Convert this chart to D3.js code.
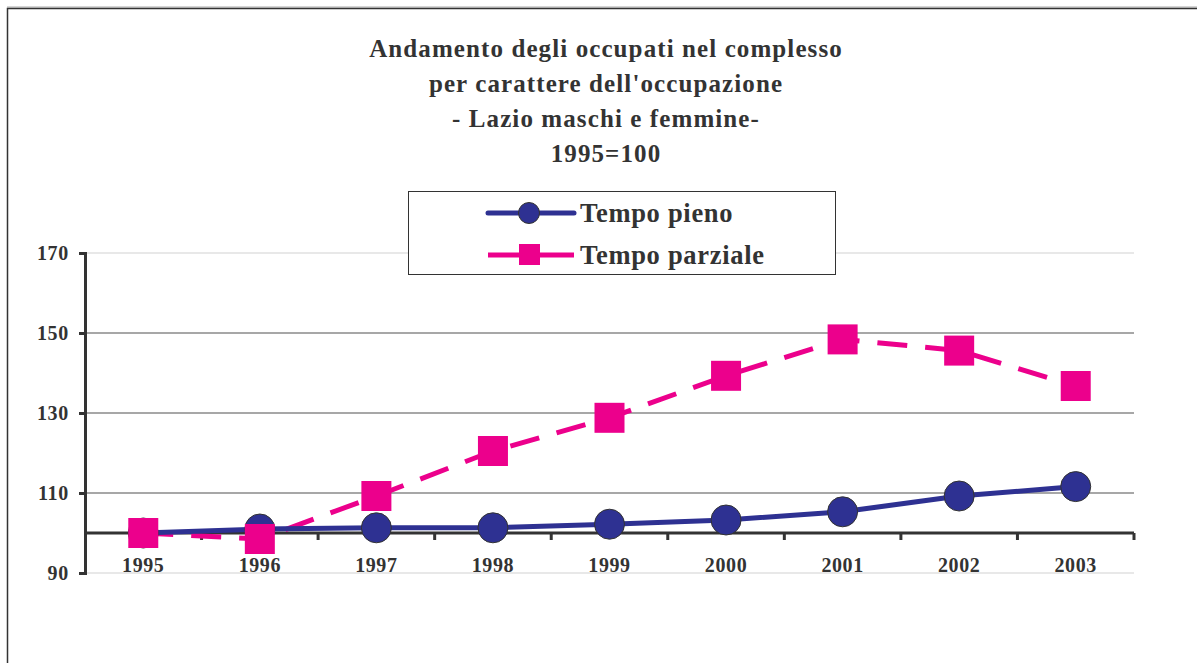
<!DOCTYPE html>
<html>
<head>
<meta charset="utf-8">
<script src="https://cdn.jsdelivr.net/npm/d3@7"></script>
<style>
  html, body { margin: 0; padding: 0; background: #fff; }
  svg { display: block; }
  text { font-family: "Liberation Serif", "Times New Roman", serif; font-weight: bold; fill: #333; }
</style>
</head>
<body>
<svg id="chart" width="1197" height="663"></svg>
<script>
const years = ["1995","1996","1997","1998","1999","2000","2001","2002","2003"];
const tempoPieno = [100, 101.0, 101.3, 101.3, 102.2, 103.25, 105.3, 109.25, 111.6];
const tempoParziale = [100, 98.5, 109.25, 120.5, 128.8, 139.3, 148.4, 145.6, 136.75];
const yTicks = [90, 110, 130, 150, 170];
const titleLines = ["Andamento degli occupati nel complesso", "per carattere dell'occupazione", "- Lazio maschi e femmine-", "1995=100"];
const seriesNames = ["Tempo pieno", "Tempo parziale"];

const svg = d3.select("#chart");
const W = 1197, H = 663;

// outer frame
svg.append("line").attr("x1", 7).attr("x2", W).attr("y1", 7).attr("y2", 7).attr("stroke", "#aaa").attr("stroke-width", 1);
svg.append("rect").attr("x", 7.5).attr("y", 8.5).attr("width", W).attr("height", H).attr("fill", "none").attr("stroke", "#333").attr("stroke-width", 1.5);

const x0 = 85, x1 = 1134;
const x = d3.scaleBand().domain(years).range([x0, x1]).padding(0);
const y = d3.scaleLinear().domain([90, 170]).range([573, 253]);

// gridlines
svg.append("g").selectAll("line").data(yTicks).join("line")
  .attr("x1", x0).attr("x2", x1)
  .attr("y1", d => y(d)).attr("y2", d => y(d))
  .attr("stroke", d => (d === 90 || d === 170) ? "#e0e0e0" : "#8a8a8a")
  .attr("stroke-width", 1.5);

// y axis
const yAxis = d3.axisLeft(y).tickValues(yTicks).tickSize(6).tickPadding(10).tickFormat(d3.format("d"));
const gy = svg.append("g").attr("transform", `translate(${x0},0)`).call(yAxis);
gy.attr("font-family", null).attr("font-size", null);
gy.select(".domain").attr("stroke", "#333").attr("stroke-width", 3);
gy.selectAll(".tick line").attr("stroke", "#333").attr("stroke-width", 3);
gy.selectAll(".tick text").attr("font-size", 20).attr("letter-spacing", 0.7).attr("fill", "#333");

// x axis at y=100
const yBase = y(100);
const gx = svg.append("g").attr("transform", `translate(0,${yBase})`);
gx.append("line").attr("x1", x0).attr("x2", x1).attr("y1", 0).attr("y2", 0).attr("stroke", "#333").attr("stroke-width", 3);
const bounds = years.map(d => x(d)).concat([x1]);
gx.selectAll("line.tk").data(bounds.slice(1)).join("line").attr("class", "tk")
  .attr("x1", d => d).attr("x2", d => d).attr("y1", 0).attr("y2", 7)
  .attr("stroke", "#333").attr("stroke-width", 3);
gx.selectAll("text").data(years).join("text")
  .attr("x", d => x(d) + x.bandwidth() / 2).attr("y", 39)
  .attr("text-anchor", "middle").attr("font-size", 20).attr("letter-spacing", 0.6).text(d => d);

const cx = d => x(d) + x.bandwidth() / 2;
const line = d3.line().x((d, i) => cx(years[i])).y(d => y(d));

// Tempo parziale (dashed pink)
svg.append("path").datum(tempoParziale).attr("d", line)
  .attr("fill", "none").attr("stroke", "#EC008C").attr("stroke-width", 5)
  .attr("stroke-dasharray", "30,18");
// Tempo pieno line
svg.append("path").datum(tempoPieno).attr("d", line)
  .attr("fill", "none").attr("stroke", "#2E3192").attr("stroke-width", 5);

// markers: pieno circles
svg.append("g").selectAll("circle").data(tempoPieno).join("circle")
  .attr("cx", (d, i) => cx(years[i])).attr("cy", d => y(d)).attr("r", 15)
  .attr("fill", "#2E3192").attr("stroke", "#333").attr("stroke-width", 1);
// parziale squares
svg.append("g").selectAll("rect").data(tempoParziale).join("rect")
  .attr("x", (d, i) => cx(years[i]) - 15).attr("y", d => y(d) - 15)
  .attr("width", 30).attr("height", 30).attr("fill", "#EC008C");

// title
svg.append("g").selectAll("text").data(titleLines).join("text")
  .attr("x", 606).attr("y", (d, i) => 57 + i * 35)
  .attr("text-anchor", "middle").attr("font-size", 25).attr("letter-spacing", 1.1).text(d => d);

// legend
const lg = svg.append("g");
lg.append("rect").attr("x", 408.5).attr("y", 191.5).attr("width", 427).attr("height", 83)
  .attr("fill", "#fff").attr("stroke", "#333").attr("stroke-width", 1);
const rows = [213, 255];
// row 1
lg.append("line").attr("x1", 488).attr("x2", 574).attr("y1", rows[0]).attr("y2", rows[0])
  .attr("stroke", "#2E3192").attr("stroke-width", 5).attr("stroke-linecap", "round");
lg.append("circle").attr("cx", 529).attr("cy", rows[0]).attr("r", 10.5)
  .attr("fill", "#2E3192").attr("stroke", "#333").attr("stroke-width", 1);
// row 2
lg.append("line").attr("x1", 488).attr("x2", 574).attr("y1", rows[1]).attr("y2", rows[1])
  .attr("stroke", "#EC008C").attr("stroke-width", 5);
lg.append("rect").attr("x", 519).attr("y", rows[1] - 11).attr("width", 21).attr("height", 21).attr("fill", "#EC008C");
lg.selectAll("text.lt").data(seriesNames).join("text").attr("class", "lt")
  .attr("x", 580).attr("y", (d, i) => rows[i] + 9).attr("font-size", 26.5).attr("letter-spacing", 0.7).text(d => d);
</script>
</body>
</html>
